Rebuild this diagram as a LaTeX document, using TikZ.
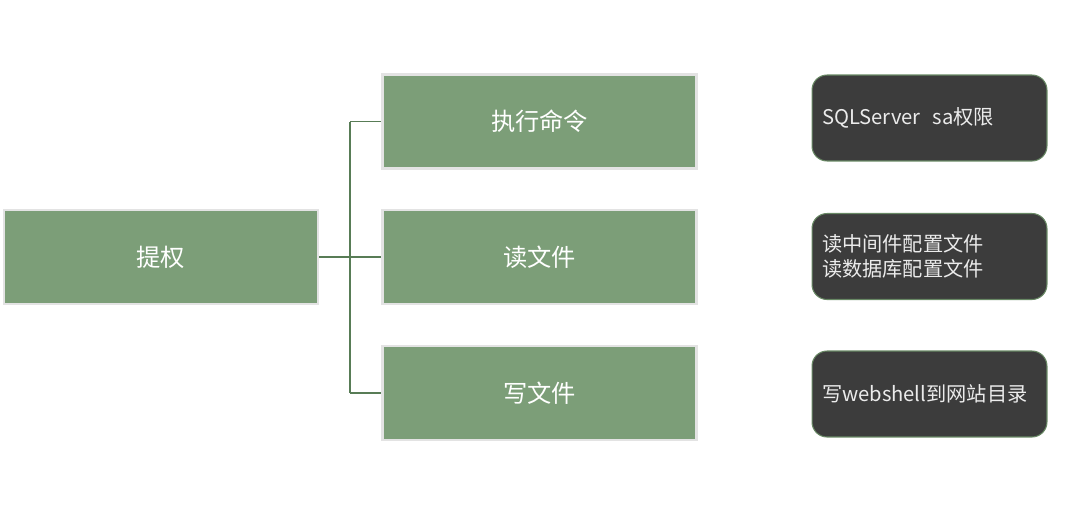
\documentclass[tikz,border=0pt]{standalone}
\usepackage{fontspec}
\usepackage{tikz}
\newfontfamily\cjk{Noto Sans CJK SC}
\definecolor{cGreen}{RGB}{124,158,120}
\definecolor{cLine}{RGB}{88,124,86}
\definecolor{cDark}{RGB}{60,60,60}
\definecolor{cEdge}{RGB}{104,136,100}

\begin{document}
\begin{tikzpicture}[x=0.02cm,y=-0.02cm,
  gbox/.style={fill=cGreen,draw=gray!22,line width=1.2pt,minimum width=6.28cm,minimum height=1.88cm,
    inner sep=0pt,text=white,font=\cjk\fontsize{13.8}{16}\selectfont},
  dbox/.style={fill=cDark,draw=cEdge,line width=0.6pt,rounded corners=0.3cm,minimum width=4.7cm,
    minimum height=1.72cm,inner xsep=0.2cm,text width=4.3cm,align=left,text=white!92!black,
    font=\cjk\fontsize{11.5}{14.2}\selectfont},
  link/.style={cLine,line width=1.1pt}]
\useasboundingbox (0,0) rectangle (1080,508);
\node[gbox] (root) at (161,257) {提权};
\node[gbox] (cmd) at (539.5,121.5) {执行命令};
\node[gbox] (rfile) at (539.5,257) {读文件};
\node[gbox] (wfile) at (539.5,393) {写文件};
\node[dbox] (nsa) at (929.5,118) {SQLServer\hspace{0.6em}sa权限};
\node[dbox] (ncfg) at (929.5,256.5) {读中间件配置文件\\读数据库配置文件};
\node[dbox] (nweb) at (929.5,394) {写webshell到网站目录};
\coordinate (jn) at (350,257);
\draw[link] (root.east) -- (jn);
\draw[link] (jn |- cmd.west) -- (jn |- wfile.west);
\draw[link] (jn |- cmd.west) -- (cmd.west);
\draw[link] (jn) -- (rfile.west);
\draw[link] (jn |- wfile.west) -- (wfile.west);
\end{tikzpicture}
\end{document}
